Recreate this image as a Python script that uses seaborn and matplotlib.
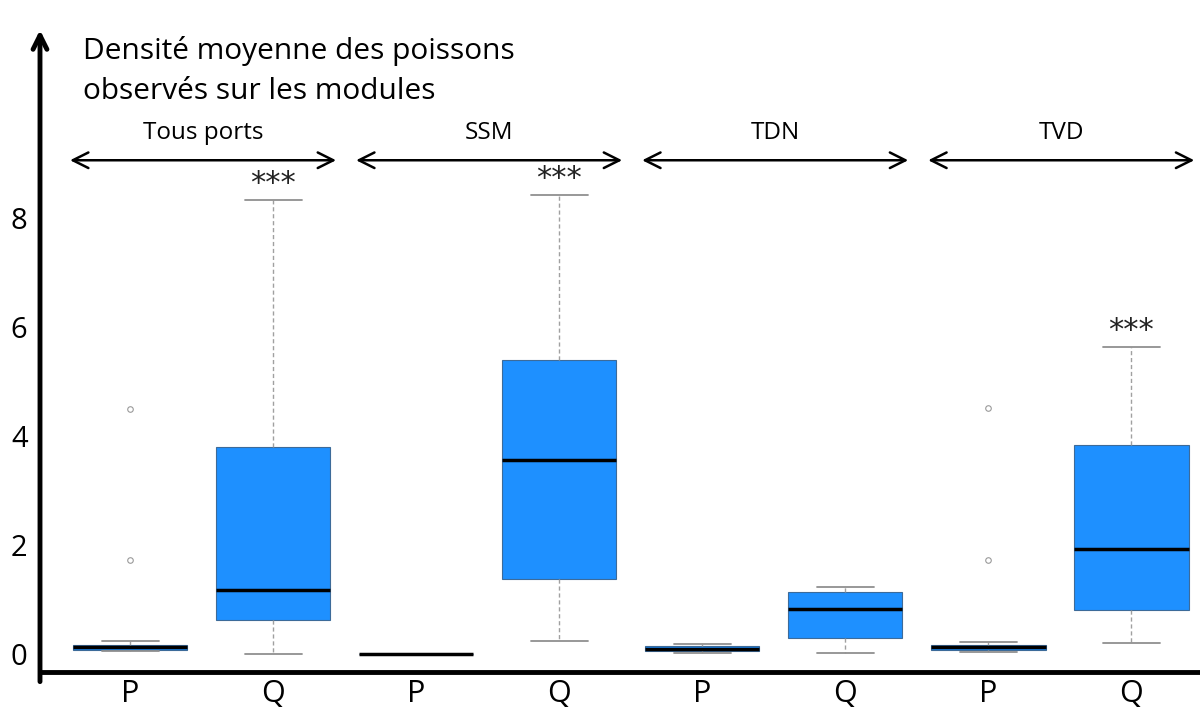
import pandas as pd
import matplotlib.pyplot as plt
import seaborn as sns

# Sites et groupes (P / Q)
sites = ["Tous ports", "SSM", "TDN", "TVD"]
groupes = ["P", "Q"]

# Valeurs (moustaches, quartiles, médiane, points isolés)
tous_ports_P = [0.06, 0.065, 0.068, 0.07, 0.09, 0.11, 0.12, 0.13, 0.15, 0.165, 0.23, 1.72, 4.5]
tous_ports_Q = [0.0, 0.62, 1.17, 3.8, 8.33]
ssm_P = [0.0, 0.0, 0.0, 0.0, 0.0]
ssm_Q = [0.24, 1.38, 3.56, 5.39, 8.42]
tdn_P = [0.02, 0.06, 0.1, 0.15, 0.19]
tdn_Q = [0.01, 0.3, 0.83, 1.13, 1.23]
tvd_P = [0.03, 0.05, 0.06, 0.08, 0.09, 0.1, 0.12, 0.13, 0.15, 0.17, 0.22, 1.72, 4.52]
tvd_Q = [0.21, 0.81, 1.92, 3.83, 5.64]

valeurs = [tous_ports_P, tous_ports_Q, ssm_P, ssm_Q, tdn_P, tdn_Q, tvd_P, tvd_Q]
signif = ["", "***", "", "***", "", "", "", "***"]

# Tableau long pour seaborn
ordre = [s + " " + g for s in sites for g in groupes]
lignes = []
for cat, vals in zip(ordre, valeurs):
    for v in vals:
        lignes.append({"cat": cat, "val": v})
df = pd.DataFrame(lignes)

sns.set_style("white")
plt.rcParams["font.family"] = ["Open Sans", "DejaVu Sans"]
plt.rcParams["text.color"] = "black"
plt.rcParams["xtick.color"] = "black"
plt.rcParams["ytick.color"] = "black"

fig = plt.figure(figsize=(12, 7.1), dpi=100)
ax = fig.add_axes([40 / 1200, 1 - 672 / 710, 1160 / 1200, 642 / 710])

sns.boxplot(
    data=df, x="cat", y="val", order=ordre, ax=ax,
    color="#1E90FF", saturation=1, width=0.8, linecolor="gray", linewidth=1,
    boxprops=dict(edgecolor="#3d6b99", linewidth=0.8),
    whiskerprops=dict(color="#a0a0a0", linestyle=(0, (3, 2)), linewidth=1),
    capprops=dict(color="#909090", linewidth=1.3),
    medianprops=dict(color="black", linewidth=2.5),
    flierprops=dict(marker="o", markersize=4, markerfacecolor="none",
                    markeredgecolor="#999999", markeredgewidth=0.8),
)

ax.set_xlim(-0.63, 7.48)
ax.set_ylim(-0.33, 11.45)
ax.set_xlabel("")
ax.set_ylabel("")
ax.set_yticks([0, 2, 4, 6, 8])
ax.set_xticks(range(len(ordre)), labels=groupes * len(sites))
ax.tick_params(axis="y", direction="out", length=6, width=3.5, labelsize=21, pad=3)
ax.tick_params(axis="x", direction="out", length=5, width=3.5, labelsize=22, pad=0)

for s in ["top", "right", "left"]:
    ax.spines[s].set_visible(False)
ax.spines["bottom"].set_linewidth(3.5)
ax.spines["bottom"].set_color("black")

# Axe vertical avec flèche
ax.annotate("", xy=(0, 1.0), xytext=(0, -0.015), xycoords="axes fraction",
            arrowprops=dict(arrowstyle="->", lw=3.5, color="black",
                            mutation_scale=25, shrinkA=0, shrinkB=0),
            annotation_clip=False)

# Titre de l'axe
ax.text(0.037, 0.99, "Densité moyenne des poissons\nobservés sur les modules",
        transform=ax.transAxes, ha="left", va="top", fontsize=21.5, linespacing=1.5)

# Flèches des sites
for i, site in enumerate(sites):
    x0 = 2 * i - 0.42
    x1 = 2 * i + 1.44
    ax.annotate("", xy=(x1, 9.06), xytext=(x0, 9.06),
                arrowprops=dict(arrowstyle="<->", lw=1.8, color="black",
                                mutation_scale=28, shrinkA=0, shrinkB=0))
    ax.text((x0 + x1) / 2, 9.56, site, ha="center", va="center", fontsize=17.5)

# Étoiles de significativité
for i, (vals, s) in enumerate(zip(valeurs, signif)):
    if s:
        ax.text(i, max(vals) + 0.3, s, ha="center", va="center",
                fontsize=22, color="#222222", family="DejaVu Sans")

plt.savefig("out.png", dpi=100)
